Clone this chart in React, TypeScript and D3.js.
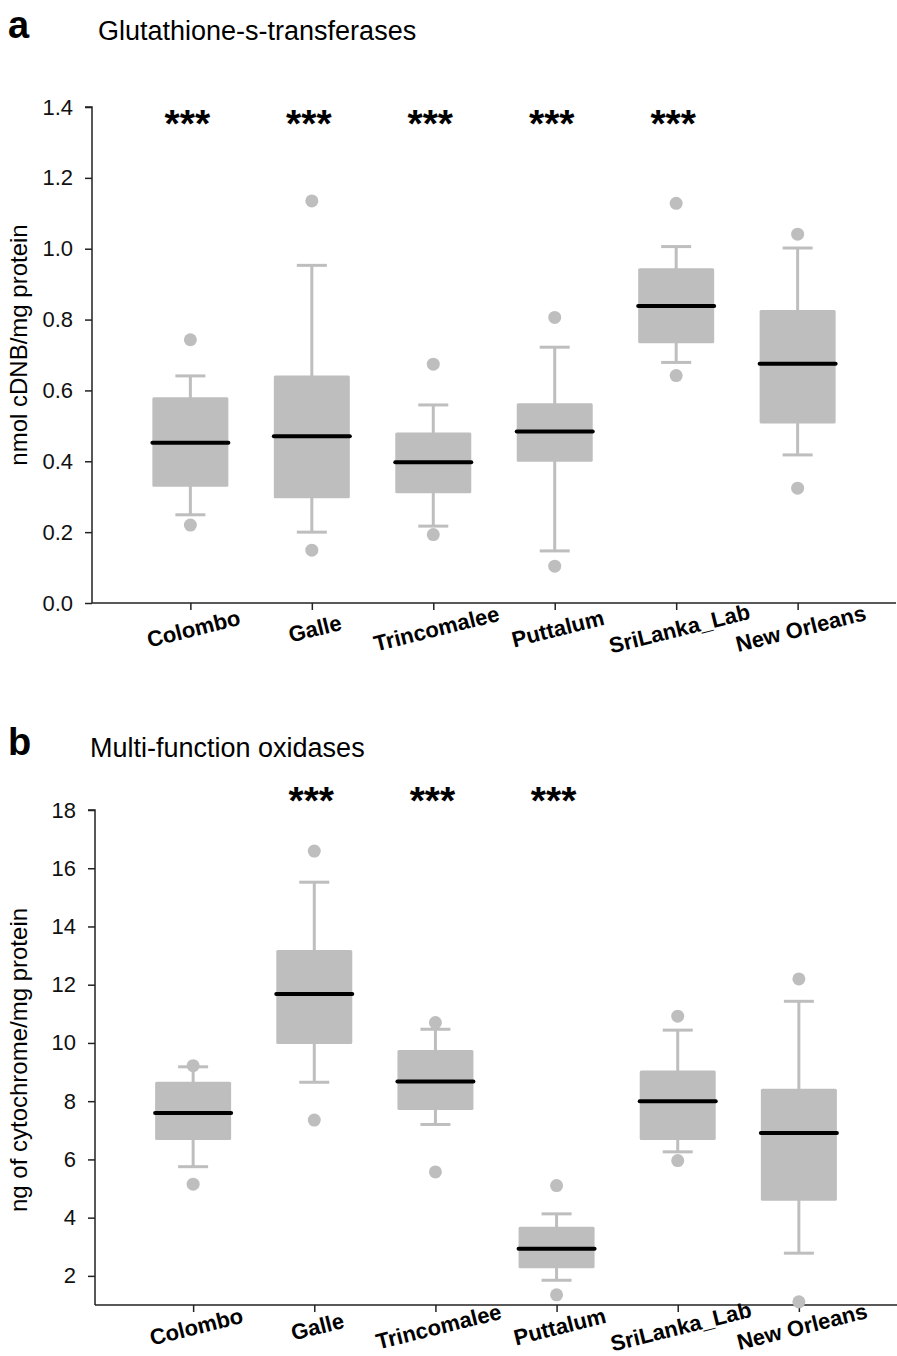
import React, { useEffect, useRef } from "react";
import * as d3 from "d3";

// sites on the x axis (same for both panels)
const sites = ["Colombo", "Galle", "Trincomalee", "Puttalum", "SriLanka_Lab", "New Orleans"];

// panel a: glutathione-s-transferases (nmol cDNB/mg protein)
const gstWhiskerLow = [0.249, 0.2, 0.217, 0.147, 0.679, 0.418];
const gstQ1 = [0.328, 0.296, 0.31, 0.399, 0.733, 0.507];
const gstMedian = [0.452, 0.471, 0.397, 0.484, 0.838, 0.675];
const gstQ3 = [0.581, 0.642, 0.481, 0.564, 0.945, 0.827];
const gstWhiskerHigh = [0.641, 0.953, 0.559, 0.722, 1.006, 1.002];
const gstOutlierLow = [0.22, 0.149, 0.193, 0.104, 0.642, 0.324];
const gstOutlierHigh = [0.743, 1.135, 0.674, 0.806, 1.128, 1.041];
const gstSignif = ["***", "***", "***", "***", "***", ""];
const gstTicks = [0, 0.2, 0.4, 0.6, 0.8, 1.0, 1.2, 1.4];

// panel b: multi-function oxidases (ng of cytochrome/mg protein)
const mfoWhiskerLow = [5.75, 8.65, 7.2, 1.85, 6.26, 2.78];
const mfoQ1 = [6.67, 9.96, 7.7, 2.26, 6.67, 4.58];
const mfoMedian = [7.59, 11.68, 8.68, 2.93, 8.0, 6.91];
const mfoQ3 = [8.67, 13.19, 9.76, 3.69, 9.05, 8.43];
const mfoWhiskerHigh = [9.18, 15.52, 10.47, 4.13, 10.44, 11.43];
const mfoOutlierLow = [5.15, 7.35, 5.57, 1.35, 5.96, 1.11];
const mfoOutlierHigh = [9.22, 16.59, 10.7, 5.1, 10.92, 12.2];
const mfoSignif = ["", "***", "***", "***", "", ""];
const mfoTicks = [2, 4, 6, 8, 10, 12, 14, 16, 18];

const FONT = "'Liberation Sans', Arial, Helvetica, sans-serif";
const GREY = "#bebebe";

interface PanelSpec {
  top: number; // y of the axis top
  bottom: number; // y of the x axis
  left: number; // x of the y axis
  right: number;
  domain: [number, number];
  ticks: number[];
  tickFmt: (v: number) => string;
  letter: string;
  title: string;
  titleX: number;
  titleY: number;
  yLabel: string;
  yLabelY: number;
  sigY: number;
  labelY: number;
  lo: number[];
  q1: number[];
  med: number[];
  q3: number[];
  hi: number[];
  outLo: number[];
  outHi: number[];
  sig: string[];
}

function drawPanel(root: d3.Selection<SVGSVGElement, unknown, null, undefined>, p: PanelSpec) {
  const g = root.append("g");

  const y = d3.scaleLinear().domain(p.domain).range([p.bottom, p.top]);
  const x = d3.scalePoint<string>().domain(sites).range([p.left, p.right]).padding(0.81);
  const boxW = 76;
  const capW = 30;

  // panel letter + title
  g.append("text")
    .attr("x", 8)
    .attr("y", p.titleY - 2)
    .style("font-family", FONT)
    .style("font-size", "38px")
    .style("font-weight", "700")
    .text(p.letter);
  g.append("text")
    .attr("x", p.titleX)
    .attr("y", p.titleY)
    .style("font-family", FONT)
    .style("font-size", "27px")
    .text(p.title);

  // y axis
  const yAxis = d3.axisLeft(y).tickValues(p.ticks).tickSize(7).tickPadding(12).tickFormat((d) => p.tickFmt(+d));
  const ya = g.append("g").attr("transform", `translate(${p.left},0)`).call(yAxis);
  ya.select(".domain").attr("d", `M-7,${y(p.ticks[p.ticks.length - 1])}H0V${p.bottom}`);
  ya.selectAll("line").attr("stroke", "#222").attr("stroke-width", 1.5);
  ya.select(".domain").attr("stroke", "#222").attr("stroke-width", 1.5);
  ya.selectAll("text").style("font-family", FONT).style("font-size", "22px").attr("fill", "#111");

  g.append("text")
    .attr("transform", `translate(27,${p.yLabelY}) rotate(-90)`)
    .attr("text-anchor", "middle")
    .style("font-family", FONT)
    .style("font-size", "24px")
    .text(p.yLabel);

  // x axis
  const xAxis = d3.axisBottom(x).tickSize(7).tickFormat(() => "");
  const xa = g.append("g").attr("transform", `translate(0,${p.bottom})`).call(xAxis);
  xa.select(".domain").attr("d", `M${p.left},0H${p.right}`).attr("stroke", "#222").attr("stroke-width", 1.5);
  xa.selectAll("line").attr("stroke", "#222").attr("stroke-width", 1.5);

  g.selectAll(".xlab")
    .data(sites)
    .enter()
    .append("text")
    .attr("class", "xlab")
    .attr("transform", (d) => `translate(${(x(d) as number) + 5},${p.labelY}) rotate(-14)`)
    .attr("text-anchor", "middle")
    .style("font-family", FONT)
    .style("font-size", "22px")
    .style("font-weight", "700")
    .text((d) => d);

  // boxes
  const boxes = g
    .selectAll(".box")
    .data(sites)
    .enter()
    .append("g")
    .attr("class", "box")
    .attr("transform", (d) => `translate(${x(d)},0)`);

  boxes.append("line")
    .attr("y1", (_, i) => y(p.hi[i]))
    .attr("y2", (_, i) => y(p.lo[i]))
    .attr("stroke", GREY)
    .attr("stroke-width", 3);
  boxes.append("line")
    .attr("x1", -capW / 2)
    .attr("x2", capW / 2)
    .attr("y1", (_, i) => y(p.hi[i]))
    .attr("y2", (_, i) => y(p.hi[i]))
    .attr("stroke", GREY)
    .attr("stroke-width", 3);
  boxes.append("line")
    .attr("x1", -capW / 2)
    .attr("x2", capW / 2)
    .attr("y1", (_, i) => y(p.lo[i]))
    .attr("y2", (_, i) => y(p.lo[i]))
    .attr("stroke", GREY)
    .attr("stroke-width", 3);
  boxes.append("rect")
    .attr("x", -boxW / 2)
    .attr("width", boxW)
    .attr("y", (_, i) => y(p.q3[i]))
    .attr("height", (_, i) => y(p.q1[i]) - y(p.q3[i]))
    .attr("rx", 1.5)
    .attr("fill", GREY);
  boxes.append("line")
    .attr("x1", -boxW / 2)
    .attr("x2", boxW / 2)
    .attr("y1", (_, i) => y(p.med[i]))
    .attr("y2", (_, i) => y(p.med[i]))
    .attr("stroke", "#000")
    .attr("stroke-width", 4)
    .attr("stroke-linecap", "round");
  boxes.append("circle")
    .attr("cy", (_, i) => y(p.outHi[i]))
    .attr("r", 6.5)
    .attr("fill", GREY);
  boxes.append("circle")
    .attr("cy", (_, i) => y(p.outLo[i]))
    .attr("r", 6.5)
    .attr("fill", GREY);
  boxes.append("text")
    .attr("x", -3)
    .attr("y", p.sigY)
    .attr("text-anchor", "middle")
    .style("font-family", FONT)
    .style("font-size", "39px")
    .style("font-weight", "700")
    .text((_, i) => p.sig[i]);
}

export default function App() {
  const svgRef = useRef<SVGSVGElement | null>(null);

  useEffect(() => {
    if (!svgRef.current) return;
    const svg = d3.select(svgRef.current);
    svg.selectAll("*").remove();

    drawPanel(svg, {
      top: 107,
      bottom: 603,
      left: 92,
      right: 896,
      domain: [0, 1.4],
      ticks: gstTicks,
      tickFmt: d3.format(".1f"),
      letter: "a",
      title: "Glutathione-s-transferases",
      titleX: 98,
      titleY: 40,
      yLabel: "nmol cDNB/mg protein",
      yLabelY: 345,
      sigY: 137,
      labelY: 636,
      lo: gstWhiskerLow,
      q1: gstQ1,
      med: gstMedian,
      q3: gstQ3,
      hi: gstWhiskerHigh,
      outLo: gstOutlierLow,
      outHi: gstOutlierHigh,
      sig: gstSignif,
    });

    drawPanel(svg, {
      top: 810,
      bottom: 1305,
      left: 95,
      right: 897,
      domain: [1, 18],
      ticks: mfoTicks,
      tickFmt: d3.format("d"),
      letter: "b",
      title: "Multi-function oxidases",
      titleX: 90,
      titleY: 757,
      yLabel: "ng of cytochrome/mg protein",
      yLabelY: 1060,
      sigY: 814,
      labelY: 1334,
      lo: mfoWhiskerLow,
      q1: mfoQ1,
      med: mfoMedian,
      q3: mfoQ3,
      hi: mfoWhiskerHigh,
      outLo: mfoOutlierLow,
      outHi: mfoOutlierHigh,
      sig: mfoSignif,
    });
  }, []);

  return (
    <div style={{ position: "absolute", left: 0, top: 0, background: "#fff" }}>
      <svg ref={svgRef} width={897} height={1356} style={{ display: "block" }} />
    </div>
  );
}
